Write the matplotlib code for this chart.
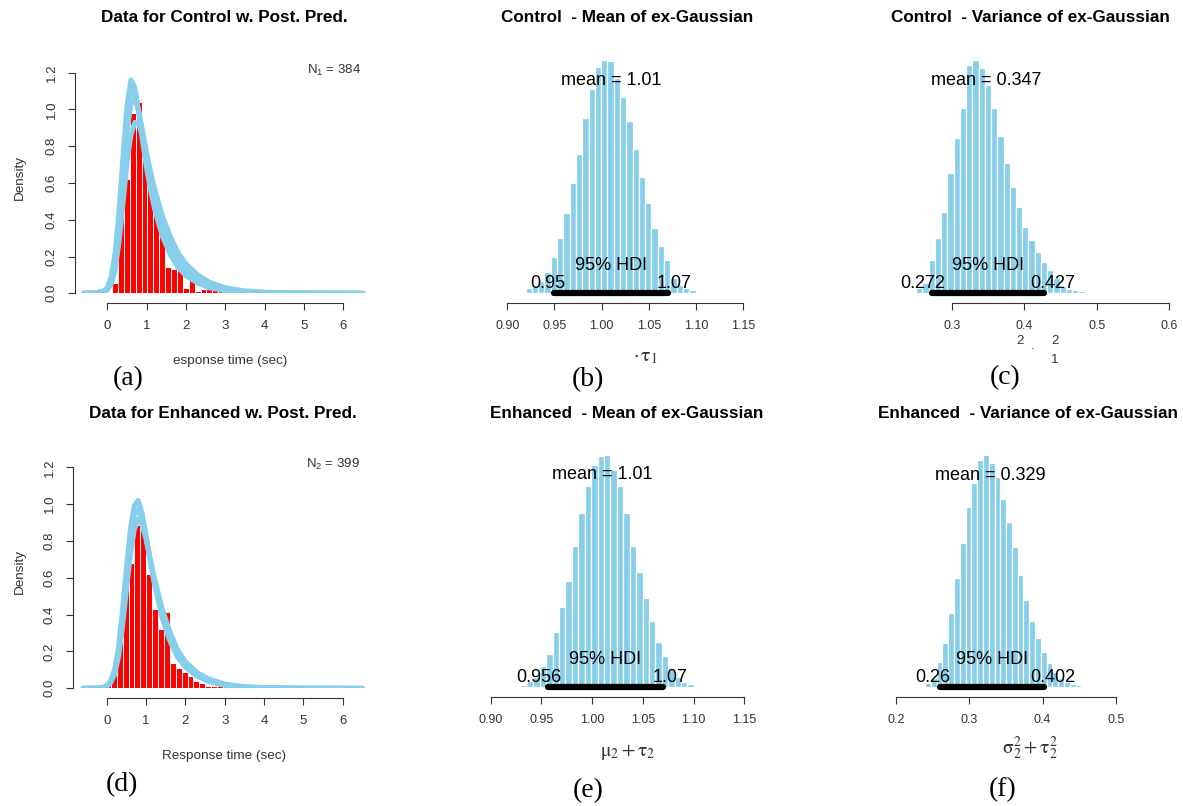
import numpy as np
import matplotlib
matplotlib.use("Agg")
import matplotlib.pyplot as plt
from matplotlib.textpath import TextPath
from matplotlib.font_manager import FontProperties

plt.rcParams['font.family'] = ['Liberation Sans', 'DejaVu Sans']
plt.rcParams['mathtext.fontset'] = 'stix'

W, H, DPI = 1183, 806, 100
SKY = '#87CEEB'
AXC = '#333333'

# ---- (a)/(d) response-time histograms (density), bins of 0.15 sec
ctrl_bin_start = 0.12
enh_bin_start = -0.045
rt_bin_width = 0.15
ctrl_density = [0.058, 0.475, 0.62, 0.98, 1.04, 0.80, 0.66, 0.52, 0.377, 0.145,
                0.13, 0.127, 0.027, 0.076, 0.01, 0.025, 0.025, 0.045, 0.013, 0.01,
                0.0, 0.03, 0, 0, 0, 0, 0, 0, 0, 0,
                0, 0, 0, 0.013, 0, 0, 0, 0, 0.013]
enh_density = [0.027, 0.10, 0.30, 0.55, 0.68, 0.887, 0.905, 0.62, 0.43, 0.32,
               0.413, 0.14, 0.11, 0.09, 0.065, 0.04, 0.03, 0.015, 0.015, 0.015,
               0.027, 0, 0, 0, 0, 0, 0, 0, 0, 0,
               0, 0, 0.013]

# posterior predictive curves (a few of the bundle)
pp_x = [-0.6, -0.3, -0.1, 0.0, 0.1, 0.2, 0.3, 0.4, 0.5, 0.6, 0.7, 0.8, 0.9, 1.0,
        1.1, 1.2, 1.4, 1.6, 1.8, 2.0, 2.3, 2.6, 3.0, 3.5, 4.0, 5.0, 6.5]
ctrl_pp = [
    [0, 0.002, 0.01, 0.03, 0.09, 0.22, 0.45, 0.75, 1.02, 1.16, 1.12, 0.98, 0.82, 0.68,
     0.56, 0.46, 0.31, 0.21, 0.14, 0.095, 0.055, 0.03, 0.014, 0.005, 0.002, 0, 0],
    [0, 0.002, 0.01, 0.028, 0.08, 0.2, 0.41, 0.69, 0.96, 1.1, 1.09, 0.99, 0.85, 0.72,
     0.6, 0.5, 0.35, 0.24, 0.165, 0.11, 0.066, 0.037, 0.018, 0.007, 0.003, 0.0005, 0],
    [0, 0.002, 0.01, 0.025, 0.07, 0.17, 0.36, 0.62, 0.88, 1.03, 1.06, 0.99, 0.88, 0.76,
     0.64, 0.54, 0.38, 0.27, 0.19, 0.13, 0.078, 0.045, 0.022, 0.009, 0.004, 0.001, 0],
    [0, 0.001, 0.006, 0.018, 0.05, 0.13, 0.28, 0.49, 0.71, 0.86, 0.93, 0.92, 0.85, 0.76,
     0.66, 0.57, 0.42, 0.31, 0.22, 0.16, 0.10, 0.06, 0.03, 0.013, 0.006, 0.001, 0],
]
enh_pp = [
    [0, 0.001, 0.005, 0.015, 0.04, 0.1, 0.22, 0.42, 0.65, 0.86, 0.99, 1.02, 0.95, 0.83,
     0.7, 0.58, 0.39, 0.26, 0.17, 0.115, 0.065, 0.036, 0.016, 0.006, 0.002, 0, 0],
    [0, 0.001, 0.004, 0.012, 0.035, 0.085, 0.19, 0.37, 0.59, 0.8, 0.94, 0.97, 0.92, 0.82,
     0.7, 0.59, 0.41, 0.28, 0.19, 0.13, 0.075, 0.042, 0.019, 0.007, 0.003, 0.0005, 0],
    [0, 0.001, 0.003, 0.01, 0.03, 0.075, 0.17, 0.33, 0.53, 0.72, 0.86, 0.92, 0.89, 0.81,
     0.71, 0.61, 0.44, 0.31, 0.21, 0.145, 0.085, 0.05, 0.023, 0.009, 0.004, 0.001, 0],
]
rt_ticks = [0, 1, 2, 3, 4, 5, 6]
dens_ticks = [0.0, 0.2, 0.4, 0.6, 0.8, 1.0, 1.2]

# ---- posterior histograms (relative counts, 30 bins each, bin = HDI width / 18)
ctrl_mean_start = 0.9127
ctrl_mean_hdi = [0.95, 1.07]
ctrl_mean_val = 1.01
ctrl_mean_counts = [5, 15, 25, 37, 65, 108, 166, 240, 332, 419, 526, 612, 680, 700, 698,
                    645, 590, 518, 432, 350, 272, 195, 143, 100, 45, 25, 15, 9, 5, 2]

ctrl_var_start = 0.242
ctrl_var_hdi = [0.272, 0.427]
ctrl_var_val = 0.347
ctrl_var_counts = [5, 15, 32, 99, 165, 243, 360, 466, 557, 685, 700, 676, 624, 556, 471,
                   390, 318, 260, 200, 160, 125, 95, 70, 45, 22, 14, 10, 7, 3, 2]

enh_mean_start = 0.923
enh_mean_hdi = [0.956, 1.07]
enh_mean_val = 1.01
enh_mean_counts = [3, 8, 18, 31, 64, 100, 165, 240, 319, 425, 522, 605, 666, 694, 698,
                   651, 604, 522, 424, 347, 268, 200, 137, 94, 57, 30, 17, 10, 5, 2]

enh_var_start = 0.2318
enh_var_hdi = [0.26, 0.402]
enh_var_val = 0.329
enh_var_counts = [4, 12, 27, 77, 134, 222, 327, 434, 540, 612, 682, 697, 672, 632, 564,
                  497, 422, 337, 262, 199, 147, 107, 72, 47, 27, 17, 10, 6, 3, 2]

mean_ticks = [0.90, 0.95, 1.00, 1.05, 1.10, 1.15]
ctrl_var_ticks = [0.3, 0.4, 0.5, 0.6]
enh_var_ticks = [0.2, 0.3, 0.4, 0.5]


fig = plt.figure(figsize=(W / DPI, H / DPI), dpi=DPI)


def px_axes(x0, x1, y0, y1):
    return fig.add_axes([x0 / W, 1 - y1 / H, (x1 - x0) / W, (y1 - y0) / H])


def set_xmap(ax, x0, x1, d_a, p_a, d_b, p_b):
    s = (p_b - p_a) / (d_b - d_a)
    ax.set_xlim(d_a + (x0 - p_a) / s, d_a + (x1 - p_a) / s)


def ftext(x, y, s, **kw):
    fig.text(x / W, 1 - y / H, s, ha='center', va='center', **kw)


def text_w(s, fs):
    tp = TextPath((0, 0), s, size=fs * DPI / 72, prop=FontProperties(family='Liberation Sans'))
    return tp.get_extents().width


def r_xaxis(ax, ticks, labels, fs):
    for side in ('top', 'right'):
        ax.spines[side].set_visible(False)
    ax.spines['bottom'].set_position(('outward', 7.2))
    ax.spines['bottom'].set_bounds(ticks[0], ticks[-1])
    ax.spines['bottom'].set_color(AXC)
    ax.set_xticks(ticks)
    ax.set_xticklabels(labels)
    ax.tick_params(axis='x', length=5, width=0.8, color=AXC, pad=7,
                   labelsize=fs, labelcolor=AXC)


def data_panel(box, xmap, yscale, yspine_px, start, dens, curves, n_lbl, n_xy):
    x0, x1, y0, y1 = box
    ax = px_axes(*box)
    set_xmap(ax, x0, x1, *xmap)
    ax.set_ylim(0, (y1 - y0) / yscale)
    centers = start + rt_bin_width * (np.arange(len(dens)) + 0.5)
    ax.bar(centers, dens, width=rt_bin_width, color='red', edgecolor='white', linewidth=0.7)
    for c in curves:
        ax.plot(pp_x, c, color=SKY, lw=3.6, solid_capstyle='round')
    r_xaxis(ax, rt_ticks, [str(t) for t in rt_ticks], 9.5)
    ax.spines['left'].set_position(('outward', (x0 - yspine_px) * 0.72))
    ax.spines['left'].set_bounds(0, 1.2)
    ax.spines['left'].set_color(AXC)
    ax.set_yticks(dens_ticks)
    ax.set_yticklabels(['%.1f' % t for t in dens_ticks], rotation=90, va='center')
    ax.tick_params(axis='y', length=5, width=0.8, color=AXC, pad=7.4,
                   labelsize=9.5, labelcolor=AXC)
    ftext(n_xy[0], n_xy[1], n_lbl, fontsize=9.5, color=AXC)
    return ax


def post_panel(box, xmap, ticks, tick_lbls, start, counts, hdi, mean_val):
    x0, x1, y0, y1 = box
    ax = px_axes(*box)
    set_xmap(ax, x0, x1, *xmap)
    ax.set_ylim(0, 3 * (y1 - y0))
    bw = (hdi[1] - hdi[0]) / 18
    centers = start + bw * (np.arange(len(counts)) + 0.5)
    ax.bar(centers, counts, width=bw, color=SKY, edgecolor='white', linewidth=0.9)
    ax.plot(hdi, [0, 0], color='black', lw=4.5, solid_capstyle='round', clip_on=False)
    for v, adj in zip(hdi, (0.7, 0.3)):
        lbl = '%g' % v
        w = text_w(lbl, 13)
        ax.annotate(lbl, (v, 0), xytext=((0.5 - adj) * w, 5), textcoords='offset pixels',
                    ha='center', va='baseline', fontsize=13, annotation_clip=False)
    ax.annotate('95% HDI', (np.mean(hdi), 0), xytext=(0, 23), textcoords='offset pixels',
                ha='center', va='baseline', fontsize=13, annotation_clip=False)
    ax.text(mean_val, 0.894 * max(counts), 'mean = %g' % mean_val, ha='center',
            va='baseline', fontsize=13)
    r_xaxis(ax, ticks, tick_lbls, 9)
    ax.spines['left'].set_visible(False)
    ax.set_yticks([])
    return ax


# (a)
data_panel((80, 370, 55, 293.3), (0, 107.3, 6, 343.3), 183.8, 75,
           ctrl_bin_start, ctrl_density, ctrl_pp, r'$\mathregular{N_1}$ = 384', (334, 70))
ftext(224, 18, 'Data for Control w. Post. Pred.', fontsize=12.3, fontweight='bold')
ftext(19.5, 177, 'Density', rotation=90, fontsize=9.7, color=AXC)
ftext(230, 361, 'esponse time (sec)', fontsize=9.7, color=AXC)

# (d)
data_panel((80, 370, 450, 688.3), (0, 106.7, 6, 342.7), 184.2, 72.7,
           enh_bin_start, enh_density, enh_pp, r'$\mathregular{N_2}$ = 399', (333, 464))
ftext(223, 413, 'Data for Enhanced w. Post. Pred.', fontsize=12.3, fontweight='bold')
ftext(19.5, 572, 'Density', rotation=90, fontsize=9.7, color=AXC)
ftext(224, 756, 'Response time (sec)', fontsize=9.7, color=AXC)

# (b)
post_panel((495, 760, 45, 293.3), (0.90, 507.3, 1.15, 743.3), mean_ticks,
           ['%.2f' % t for t in mean_ticks], ctrl_mean_start, ctrl_mean_counts,
           ctrl_mean_hdi, ctrl_mean_val)
ftext(627, 18, 'Control  - Mean of ex-Gaussian', fontsize=12.3, fontweight='bold')
ftext(645, 357, r'$\cdot\,\mathrm{\tau_1}$', fontsize=14, color=AXC)

# (c)
post_panel((880, 1180, 45, 293.3), (0.3, 952, 0.6, 1169.3), ctrl_var_ticks,
           ['%.1f' % t for t in ctrl_var_ticks], ctrl_var_start, ctrl_var_counts,
           ctrl_var_hdi, ctrl_var_val)
ftext(1030, 18, 'Control  - Variance of ex-Gaussian', fontsize=12.3, fontweight='bold')
ftext(1020, 341, '2', fontsize=9.5, color=AXC)
ftext(1033, 346, '.', fontsize=9.5, color=AXC)
ftext(1054.5, 341, '2', fontsize=9.5, color=AXC)
ftext(1055, 360, '1', fontsize=9.5, color=AXC)

# (e)
post_panel((480, 760, 440, 687.3), (0.90, 490.7, 1.15, 744.3), mean_ticks,
           ['%.2f' % t for t in mean_ticks], enh_mean_start, enh_mean_counts,
           enh_mean_hdi, enh_mean_val)
ftext(627, 413, 'Enhanced  - Mean of ex-Gaussian', fontsize=12.3, fontweight='bold')
ftext(627.5, 752, r'$\mathrm{\mu_2 + \tau_2}$', fontsize=14, color=AXC)

# (f)
post_panel((880, 1180, 440, 687.3), (0.2, 896, 0.5, 1116), enh_var_ticks,
           ['%.1f' % t for t in enh_var_ticks], enh_var_start, enh_var_counts,
           enh_var_hdi, enh_var_val)
ftext(1028, 413, 'Enhanced  - Variance of ex-Gaussian', fontsize=12.3, fontweight='bold')
ftext(1030, 748, r'$\mathrm{\sigma_2^2 + \tau_2^2}$', fontsize=14, color=AXC)

# panel letters
for lbl, x, y in [('(a)', 128, 379), ('(b)', 588, 380), ('(c)', 1005, 378),
                  ('(d)', 122, 785), ('(e)', 588, 791), ('(f)', 1003, 790)]:
    ftext(x, y, lbl, fontsize=20, family='Liberation Serif')

fig.savefig('out.png', dpi=DPI)
